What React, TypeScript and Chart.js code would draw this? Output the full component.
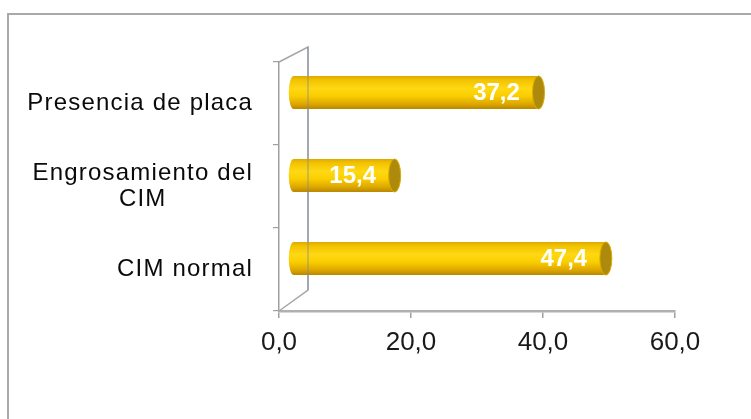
import React, { useEffect, useRef } from "react";
import { Chart, registerables } from "chart.js";

Chart.register(...registerables);

const categories: string[][] = [["Presencia de placa"], ["Engrosamiento del", "CIM"], ["CIM normal"]];
const values: number[] = [37.2, 15.4, 47.4];
const valueLabels: string[] = ["37,2", "15,4", "47,4"];
const xTickValues: number[] = [0, 20, 40, 60];
const xTickLabels: string[] = ["0,0", "20,0", "40,0", "60,0"];

const FONT = "'Liberation Sans', Arial, sans-serif";
const DEPTH_X = 29;
const DEPTH_TOP_Y = -15;
const DEPTH_BOT_Y = -21;
const BAR_DX = 14;
const BAR_DY = -11;

export default function App() {
  const ref = useRef<HTMLCanvasElement>(null);

  useEffect(() => {
    const canvas = ref.current!;
    const decor = {
      id: "decor",
      beforeDraw(chart: any) {
        const ctx = chart.ctx;
        ctx.save();
        ctx.strokeStyle = "#A9A9A9";
        ctx.lineWidth = 2;
        ctx.beginPath();
        ctx.moveTo(8, 440);
        ctx.lineTo(8, 14);
        ctx.lineTo(770, 14);
        ctx.stroke();
        ctx.restore();
      },
      beforeDatasetsDraw(chart: any) {
        const { ctx, chartArea: a } = chart;
        ctx.save();
        ctx.strokeStyle = "#A6A6A6";
        ctx.lineWidth = 1.5;
        ctx.beginPath();
        ctx.moveTo(a.left, a.top);
        ctx.lineTo(a.left + DEPTH_X, a.top + DEPTH_TOP_Y);
        ctx.lineTo(a.left + DEPTH_X, a.bottom + DEPTH_BOT_Y);
        ctx.lineTo(a.left, a.bottom);
        ctx.stroke();
        ctx.restore();
      },
      afterDatasetsDraw(chart: any) {
        const { ctx, chartArea: a } = chart;
        const meta = chart.getDatasetMeta(0);
        ctx.save();
        meta.data.forEach((el: any, i: number) => {
          const p = el.getProps(["x", "y", "base", "height"], true);
          const x0 = p.base + BAR_DX;
          const x1 = p.x + BAR_DX;
          const cy = p.y + BAR_DY;
          const h = p.height;
          const top = cy - h / 2;
          const bot = cy + h / 2;
          const rx = 6;
          const lrx = 5;
          const g = ctx.createLinearGradient(0, top, 0, bot);
          g.addColorStop(0, "#DDA800");
          g.addColorStop(0.12, "#F2C200");
          g.addColorStop(0.38, "#FFD814");
          g.addColorStop(0.6, "#FACF00");
          g.addColorStop(0.85, "#DDA600");
          g.addColorStop(1, "#B88700");
          ctx.beginPath();
          ctx.moveTo(x1, top);
          ctx.lineTo(x0, top);
          ctx.ellipse(x0, cy, lrx, h / 2, 0, -Math.PI / 2, Math.PI / 2, true);
          ctx.lineTo(x1, bot);
          ctx.closePath();
          ctx.fillStyle = g;
          ctx.fill();
          // end cap
          ctx.beginPath();
          ctx.ellipse(x1, cy, rx, h / 2, 0, 0, Math.PI * 2);
          ctx.fillStyle = "#AE8A0C";
          ctx.fill();
          ctx.strokeStyle = "#D9AC00";
          ctx.lineWidth = 1;
          ctx.stroke();
          // value label
          ctx.font = `bold 24px ${FONT}`;
          ctx.fillStyle = "#FFFFFF";
          ctx.textAlign = "center";
          ctx.textBaseline = "middle";
          ctx.fillText(valueLabels[i], x1 - 42, cy + 1);
        });
        // back wall line visible over bars
        ctx.strokeStyle = "rgba(125,135,155,0.5)";
        ctx.lineWidth = 1.5;
        ctx.beginPath();
        ctx.moveTo(a.left + DEPTH_X, a.top + DEPTH_TOP_Y);
        ctx.lineTo(a.left + DEPTH_X, a.bottom + DEPTH_BOT_Y);
        ctx.stroke();

        // category labels
        const ys = chart.scales.y;
        ctx.font = `24px ${FONT}`;
        (ctx as any).letterSpacing = "1.2px";
        ctx.fillStyle = "#0A0A0A";
        ctx.textAlign = "center";
        ctx.textBaseline = "middle";
        const right = a.left - 26;
        categories.forEach((lines, i) => {
          const cy = ys.getPixelForTick(i);
          const w = Math.max(...lines.map((l) => ctx.measureText(l).width));
          const cx = right - w / 2;
          const lh = 26;
          lines.forEach((l, k) => {
            ctx.fillText(l, cx, cy + (k - (lines.length - 1) / 2) * lh);
          });
        });
        (ctx as any).letterSpacing = "0px";
        ctx.restore();
      },
    };

    const chart = new Chart(canvas, {
      type: "bar",
      data: {
        labels: categories as any,
        datasets: [
          {
            data: values,
            backgroundColor: "rgba(0,0,0,0)",
            borderWidth: 0,
            barPercentage: 0.4,
            categoryPercentage: 1,
          },
        ],
      },
      options: {
        responsive: false,
        animation: false,
        indexAxis: "y",
        layout: { padding: { left: 0, top: 62, right: 76, bottom: 0 } },
        plugins: {
          legend: { display: false },
          tooltip: { enabled: false },
          title: { display: false },
        },
        scales: {
          x: {
            type: "linear",
            min: 0,
            max: 60,
            afterBuildTicks: (s: any) => {
              s.ticks = xTickValues.map((v) => ({ value: v }));
            },
            ticks: {
              callback: (v: any) => xTickLabels[xTickValues.indexOf(Number(v))],
              font: { family: FONT, size: 26 },
              color: "#1A1A1A",
              padding: 9,
              maxRotation: 0,
              autoSkip: false,
            },
            grid: { drawOnChartArea: false, drawTicks: true, tickLength: 7, color: "#A0A0A0", lineWidth: 1.5 },
            border: { display: true, color: "#B0B0B0", width: 2.5 },
            afterFit: (s: any) => {
              s.height = 108;
            },
          },
          y: {
            type: "category",
            ticks: { display: false },
            grid: { drawOnChartArea: false, drawTicks: true, tickLength: 6, color: "#A0A0A0", lineWidth: 1.2, offset: true },
            border: { display: true, color: "#A0A0A0", width: 1.5 },
            afterFit: (s: any) => {
              s.width = 279;
            },
          },
        },
      } as any,
      plugins: [decor],
    });

    return () => chart.destroy();
  }, []);

  return (
    <div style={{ position: "fixed", left: 0, top: 0, width: 751, height: 419, background: "#fff" }}>
      <canvas ref={ref} width={751} height={419} style={{ display: "block" }} />
    </div>
  );
}
